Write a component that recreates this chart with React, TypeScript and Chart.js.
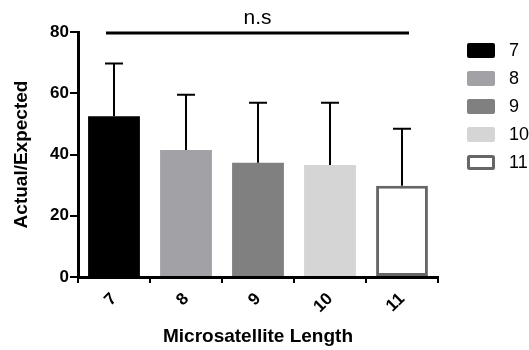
import React, { useEffect, useRef } from "react";
import { Chart, registerables } from "chart.js";

Chart.register(...registerables);

const categories = ["7", "8", "9", "10", "11"];
const means = [52.5, 41.5, 37.3, 36.6, 29.8];
const errors = [17.2, 18.0, 19.6, 20.3, 18.6];
const fillColors = ["#000000", "#a2a1a6", "#808080", "#d5d5d5", "#ffffff"];
const borderColors = ["#000000", "#a2a1a6", "#808080", "#d5d5d5", "#666666"];
const borderWidths = [0, 0, 0, 0, 3];
const yMin = 0;
const yMax = 80;
const yStep = 20;
const sigLabel = "n.s";
const xTitle = "Microsatellite Length";
const yTitle = "Actual/Expected";

const FONT = "'Liberation Sans', Arial, sans-serif";

const errorBarPlugin = {
  id: "errorBars",
  afterDatasetsDraw(chart: any) {
    const meta = chart.getDatasetMeta(0);
    const yScale = chart.scales.y;
    const ctx = chart.ctx;
    ctx.save();
    ctx.strokeStyle = "#000";
    ctx.lineWidth = 2;
    meta.data.forEach((bar: any, i: number) => {
      const x = bar.x;
      const y0 = yScale.getPixelForValue(means[i]);
      const y1 = yScale.getPixelForValue(means[i] + errors[i]);
      ctx.beginPath();
      ctx.moveTo(x, y0);
      ctx.lineTo(x, y1);
      ctx.moveTo(x - 9, y1);
      ctx.lineTo(x + 9, y1);
      ctx.stroke();
    });
    ctx.restore();
  },
};

const sigPlugin = {
  id: "sigLine",
  afterDraw(chart: any) {
    const xs = chart.scales.x;
    const ys = chart.scales.y;
    const ctx = chart.ctx;
    const x0 = xs.getPixelForValue(0) - 8;
    const x1 = xs.getPixelForValue(categories.length - 1) + 7;
    const y = ys.getPixelForValue(yMax) + 1;
    ctx.save();
    ctx.strokeStyle = "#000";
    ctx.lineWidth = 3;
    ctx.beginPath();
    ctx.moveTo(x0, y);
    ctx.lineTo(x1, y);
    ctx.stroke();
    ctx.fillStyle = "#000";
    ctx.font = `21px ${FONT}`;
    ctx.textAlign = "center";
    ctx.textBaseline = "alphabetic";
    ctx.fillText(sigLabel, (x0 + x1) / 2, y - 9);
    ctx.restore();
  },
};

const legendPlugin = {
  id: "customLegend",
  afterDraw(chart: any) {
    const ctx = chart.ctx;
    const area = chart.chartArea;
    const bx = area.right + 29;
    const by = area.top + 11;
    const step = 28;
    const bw = 28;
    const bh = 15;
    ctx.save();
    ctx.font = `18px ${FONT}`;
    ctx.textBaseline = "middle";
    ctx.textAlign = "left";
    categories.forEach((c, i) => {
      const y = by + i * step;
      const lw = borderWidths[i];
      ctx.fillStyle = fillColors[i];
      ctx.beginPath();
      ctx.roundRect(bx, y, bw, bh, 2);
      ctx.fill();
      if (lw > 0) {
        ctx.strokeStyle = borderColors[i];
        ctx.lineWidth = lw;
        ctx.beginPath();
        ctx.roundRect(bx + lw / 2, y + lw / 2, bw - lw, bh - lw, 1);
        ctx.stroke();
      }
      ctx.fillStyle = "#000";
      ctx.fillText(c, bx + bw + 14, y + bh / 2 + 1);
    });
    ctx.restore();
  },
};

export default function App() {
  const ref = useRef<HTMLCanvasElement>(null);
  useEffect(() => {
    document.body.style.margin = "0";
    const chart = new Chart(ref.current!, {
      type: "bar",
      data: {
        labels: categories,
        datasets: [
          {
            data: means,
            backgroundColor: fillColors,
            borderColor: borderColors,
            borderWidth: borderWidths,
            borderSkipped: false,
            categoryPercentage: 0.72,
            barPercentage: 1,
          },
        ],
      },
      options: {
        animation: false,
        responsive: false,
        layout: { padding: { top: 32, right: 91, left: 6, bottom: 0 } },
        plugins: {
          tooltip: { enabled: false },
          legend: { display: false },
        },
        scales: {
          x: {
            afterFit: (scale: any) => {
              scale.height = 73;
            },
            grid: {
              display: true,
              drawOnChartArea: false,
              drawTicks: true,
              tickLength: 6,
              lineWidth: 2,
              color: "#000",
            },
            border: { display: true, width: 3, color: "#000" },
            ticks: {
              color: "#000",
              font: { family: FONT, size: 17, weight: "bold" },
              minRotation: 45,
              maxRotation: 45,
              padding: 6,
            },
            title: {
              display: true,
              text: xTitle,
              color: "#000",
              font: { family: FONT, size: 19, weight: "bold" },
              padding: { top: 4, bottom: 2 },
            },
          },
          y: {
            min: yMin,
            max: yMax,
            afterFit: (scale: any) => {
              scale.width = 72;
            },
            grid: {
              display: true,
              drawOnChartArea: false,
              drawTicks: true,
              tickLength: 8,
              lineWidth: 2,
              color: "#000",
            },
            border: { display: true, width: 3, color: "#000" },
            ticks: {
              stepSize: yStep,
              color: "#000",
              font: { family: FONT, size: 17, weight: "bold" },
              padding: 1,
            },
            title: {
              display: true,
              text: yTitle,
              color: "#000",
              font: { family: FONT, size: 19, weight: "bold" },
              padding: { top: 4, bottom: 4 },
            },
          },
        },
      },
      plugins: [errorBarPlugin, sigPlugin, legendPlugin],
    });
    return () => chart.destroy();
  }, []);
  return (
    <div style={{ width: 529, height: 350 }}>
      <canvas ref={ref} width={529} height={350} />
    </div>
  );
}
